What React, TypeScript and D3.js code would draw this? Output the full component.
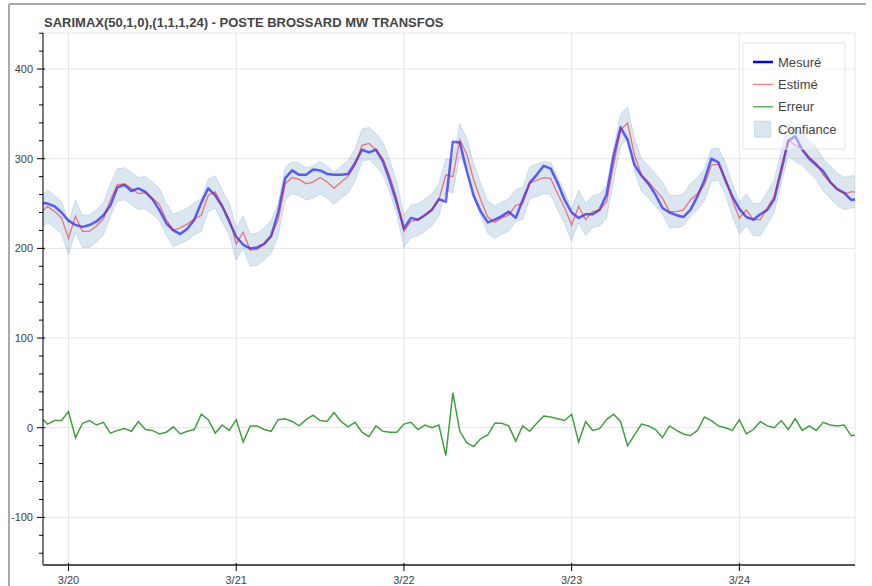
import React from 'react';
import * as d3 from 'd3';

// hourly series, first point 3/19 20:00
const startTime = Date.UTC(2020, 2, 19, 20);

const measured = [
  251, 250, 247, 240, 231, 226, 224, 226, 230, 237, 248, 268, 271, 264, 267, 263, 255, 243, 228, 220,
  216, 222, 232, 251, 267, 259, 247, 230, 213, 204, 200, 201, 205, 214, 240, 278, 287, 282, 282, 288,
  287, 283, 282, 282, 283, 295, 310, 307, 310, 297, 275, 250, 222, 234, 232, 237, 243, 255, 252, 319,
  318, 286, 258, 241, 229, 232, 236, 241, 234, 254, 273, 282, 292, 289, 273, 254, 240, 234, 238, 238,
  243, 260, 303, 335, 321, 293, 281, 272, 260, 245, 240, 237, 235, 243, 258, 276, 300, 296, 276, 258,
  244, 235, 232, 238, 243, 255, 287, 320, 325, 310, 300, 293, 286, 274, 266, 262, 254, 255,
];

const estimated = [
  240, 247, 241, 234, 211, 236, 219, 219, 225, 233, 254, 271, 272, 267, 261, 262, 256, 249, 232, 220,
  223, 227, 233, 237, 259, 263, 247, 233, 205, 218, 198, 199, 205, 213, 232, 272, 279, 277, 272, 274,
  279, 274, 267, 274, 280, 293, 315, 317, 310, 300, 280, 255, 219, 230, 232, 237, 243, 254, 282, 280,
  321, 305, 276, 254, 235, 229, 234, 237, 248, 250, 273, 276, 279, 278, 261, 245, 226, 247, 232, 241,
  243, 252, 293, 332, 340, 304, 282, 274, 265, 256, 241, 241, 243, 254, 261, 271, 293, 294, 278, 254,
  234, 243, 232, 232, 245, 258, 291, 321, 315, 311, 302, 295, 282, 274, 266, 261, 263, 263,
];

const error = [
  12, 4, 8, 8, 18, -11, 5, 8, 3, 6, -6, -3, -1, -4, 7, -2, -3, -7, -5, 1,
  -7, -4, -2, 15, 9, -6, 3, -3, 9, -16, 2, 2, -2, -4, 9, 10, 7, 2, 9, 14,
  8, 7, 17, 7, 1, 6, -5, -10, 2, -4, -5, -5, 4, 6, -2, 3, 0, 3, -31, 39,
  -4, -17, -21, -12, -8, 5, 5, 2, -15, 2, -4, 5, 13, 12, 10, 8, 15, -16, 7, -3,
  -1, 9, 15, 7, -20, -8, 4, 2, -2, -11, 2, -3, -7, -9, -3, 12, 8, 2, 0, -3,
  9, -7, -2, 7, 2, 0, 8, -2, 10, -3, 2, -3, 6, 3, 2, 3, -9, -8,
];

// half width of the confidence interval around the estimate
const confHalfWidth = 18;

const yTicks = [-100, 0, 100, 200, 300, 400];
const dayTicks = [20, 21, 22, 23, 24];
const legendLabels = ['Mesuré', 'Estimé', 'Erreur', 'Confiance'];
const title = 'SARIMAX(50,1,0),(1,1,1,24) - POSTE BROSSARD MW TRANSFOS';

const W = 872, H = 586;
const left = 43, right = 855, top = 33, bottom = 565;
const font = '"Liberation Sans", Arial, Helvetica, sans-serif';
const hour = 3600e3;
const day0 = Date.UTC(2020, 2, 20);

export default function App() {
  const times = measured.map((_, i) => new Date(startTime + i * hour));

  const x = d3.scaleUtc()
    .domain([new Date(day0 - 3.649 * hour), new Date(day0 + 112.55 * hour)])
    .range([left, right]);
  const y = d3.scaleLinear().domain([-153.1, 440.2]).range([bottom, top]);

  const minorTicks = d3.range(-140, 441, 20).filter(v => v % 100 !== 0);
  const fmt = d3.utcFormat('%-m/%-d');

  const line = d3.line<number>()
    .x((_, i) => x(times[i]))
    .y(d => y(d));
  const band = d3.area<number>()
    .x((_, i) => x(times[i]))
    .y0(d => y(d - confHalfWidth))
    .y1(d => y(d + confHalfWidth));

  const legX = 743, legY = 43, legW = 102, legH = 106;
  const rowY = (k: number) => legY + 19 + k * 22.4;

  return (
    <svg width={W} height={H} style={{ position: 'absolute', left: 0, top: 0, background: '#fff' }}
      fontFamily={font}>
      <defs>
        <clipPath id="frame">
          <rect x={left} y={top} width={right - left} height={bottom - top} />
        </clipPath>
      </defs>

      {/* outer border */}
      <line x1={9} y1={4} x2={866} y2={4} stroke="#aaa" strokeWidth={2} />
      <line x1={9} y1={4} x2={9} y2={H} stroke="#aaa" strokeWidth={2} />

      <text x={44} y={27} fontSize={13} fontWeight="bold" fill="#444">{title}</text>

      {/* grid */}
      {yTicks.map(v => (
        <line key={'gy' + v} x1={left} x2={right} y1={y(v)} y2={y(v)} stroke="#e5e5e5" />
      ))}
      {dayTicks.map(d => {
        const px = x(new Date(Date.UTC(2020, 2, d)));
        return <line key={'gx' + d} x1={px} x2={px} y1={top} y2={bottom} stroke="#e5e5e5" />;
      })}
      <rect x={left} y={top} width={right - left} height={bottom - top} fill="none" stroke="#e5e5e5" />

      <g clipPath="url(#frame)">
        <path d={band(estimated) || ''} fill="steelblue" fillOpacity={0.2}
          stroke="steelblue" strokeOpacity={0.2} />
        <path d={line(error) || ''} fill="none" stroke="green" strokeOpacity={0.75} strokeWidth={1.5} />
        <path d={line(measured) || ''} fill="none" stroke="blue" strokeOpacity={0.6} strokeWidth={2.5}
          strokeLinejoin="round" />
        <path d={line(estimated) || ''} fill="none" stroke="red" strokeOpacity={0.5} strokeWidth={1.3} />
      </g>

      {/* y axis */}
      <line x1={left} x2={left} y1={top} y2={bottom} stroke="#000" />
      {yTicks.map(v => (
        <g key={'ty' + v}>
          <line x1={left - 6} x2={left + 2} y1={y(v)} y2={y(v)} stroke="#000" />
          <text x={left - 10} y={y(v)} dy="0.35em" textAnchor="end" fontSize={11} fill="#444">{v}</text>
        </g>
      ))}
      {minorTicks.map(v => (
        <line key={'my' + v} x1={left - 4} x2={left} y1={y(v)} y2={y(v)} stroke="#000" />
      ))}

      {/* x axis */}
      <line x1={left} x2={right} y1={bottom} y2={bottom} stroke="#555" strokeWidth={2} />
      {dayTicks.map(d => {
        const t = new Date(Date.UTC(2020, 2, d));
        const px = x(t);
        return (
          <g key={'tx' + d}>
            <line x1={px} x2={px} y1={bottom - 2} y2={bottom + 6} stroke="#000" />
            <text x={px} y={bottom + 19} textAnchor="middle" fontSize={11} fill="#444">{fmt(t)}</text>
          </g>
        );
      })}

      {/* legend */}
      <rect x={legX} y={legY} width={legW} height={legH} fill="#fff" fillOpacity={0.4} stroke="#e5e5e5" />
      {legendLabels.map((lab, k) => {
        const cy = rowY(k);
        let glyph;
        if (k === 0) glyph = <line x1={753} x2={773} y1={cy} y2={cy} stroke="blue" strokeWidth={2.5} />;
        else if (k === 1) glyph = <line x1={753} x2={773} y1={cy} y2={cy} stroke="red" strokeOpacity={0.5} strokeWidth={1.3} />;
        else if (k === 2) glyph = <line x1={753} x2={773} y1={cy} y2={cy} stroke="green" strokeOpacity={0.75} strokeWidth={1.3} />;
        else glyph = <rect x={754.5} y={cy - 8} width={16} height={16} fill="steelblue" fillOpacity={0.2}
          stroke="steelblue" strokeOpacity={0.2} />;
        return (
          <g key={lab}>
            {glyph}
            <text x={778} y={cy} dy="0.35em" fontSize={13} fill="#444">{lab}</text>
          </g>
        );
      })}
    </svg>
  );
}
